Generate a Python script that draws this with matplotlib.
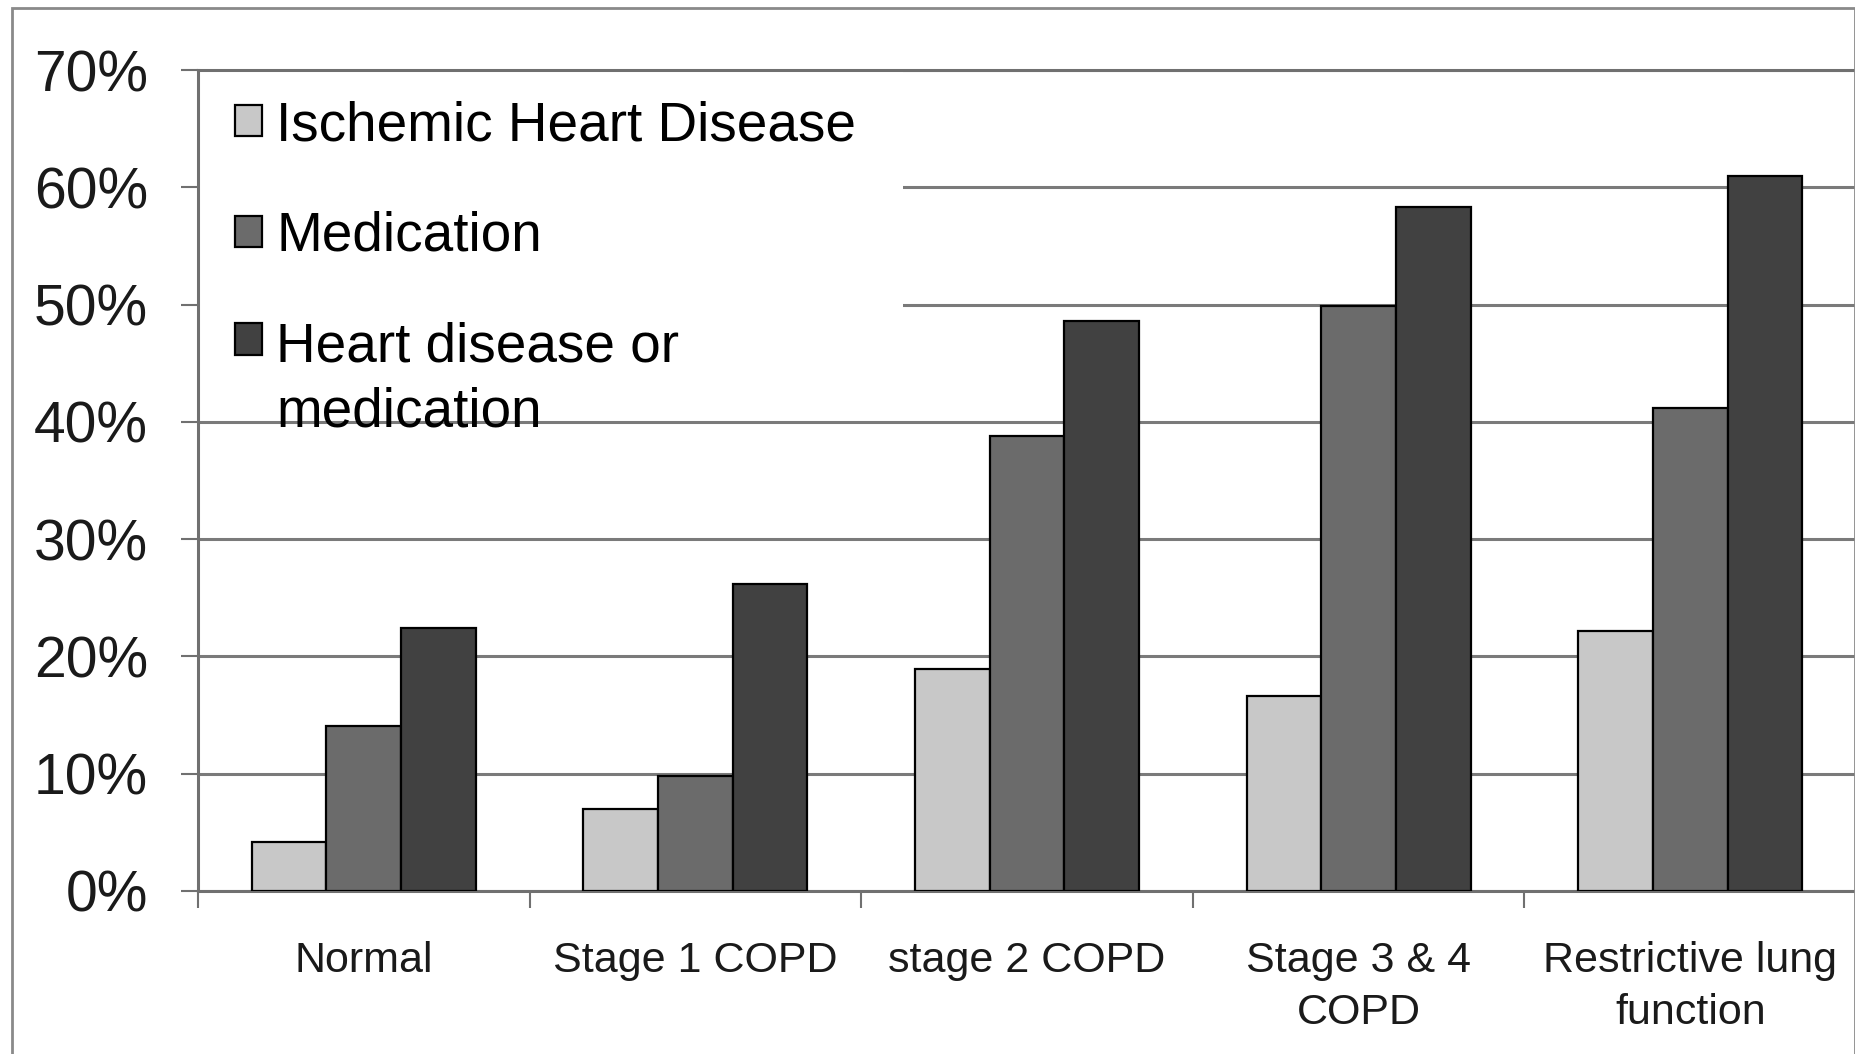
import numpy as np
import matplotlib.pyplot as plt
from matplotlib.patches import Rectangle
from matplotlib.ticker import PercentFormatter
from matplotlib.legend_handler import HandlerPatch

plt.rcParams['font.family'] = ['Liberation Sans', 'DejaVu Sans']

categories = ['Normal', 'Stage 1 COPD', 'stage 2 COPD', 'Stage 3 & 4\nCOPD',
              'Restrictive lung\nfunction']
series_names = ['Ischemic Heart Disease', 'Medication', 'Heart disease or\nmedication']
ihd = [4.2, 7.0, 18.9, 16.6, 22.2]
medication = [14.1, 9.8, 38.8, 49.9, 41.2]
either = [22.4, 26.2, 48.6, 58.3, 61.0]
colors = ['#c8c8c8', '#6b6b6b', '#414141']


class FirstLineHandler(HandlerPatch):
    # put the swatch next to the first line of a two-line label
    def create_artists(self, legend, orig_handle, xdescent, ydescent,
                       width, height, fontsize, trans):
        shift = 0.76 * fontsize
        p = Rectangle((-xdescent, -ydescent + shift), width, height)
        self.update_prop(p, orig_handle, legend)
        p.set_transform(trans)
        return [p]


fig = plt.figure(figsize=(18.56, 10.54), dpi=100)
ax = fig.add_axes([198 / 1856, 163 / 1054, 1658 / 1856, 821 / 1054])

index = np.arange(len(categories))
bar_width = 0.225
handles = []
for k, (vals, c, name) in enumerate(zip([ihd, medication, either], colors, series_names)):
    b = ax.bar(index + (k - 1) * bar_width, vals, bar_width, color=c,
               edgecolor='black', linewidth=1.6, label=name, zorder=3)
    handles.append(b)

ax.set_xlim(-0.5, len(categories) - 0.5)
ax.set_ylim(0, 70)
ax.set_yticks(np.arange(0, 71, 10))
ax.yaxis.set_major_formatter(PercentFormatter(xmax=100, decimals=0))
ax.set_axisbelow(True)
ax.yaxis.grid(True, color='#7a7a7a', linewidth=2.2)

ax.set_xticks(np.arange(len(categories) + 1) - 0.5)
ax.set_xticklabels([])
ax.set_xticks(index, minor=True)
ax.set_xticklabels(categories, minor=True, fontsize=31, color='#1a1a1a')
for t in ax.get_xticklabels(minor=True):
    t.set_linespacing(1.38)
ax.tick_params(axis='x', which='major', length=12, width=1.5, color='#707070')
ax.tick_params(axis='x', which='minor', length=0, pad=36)
ax.tick_params(axis='y', length=12, width=1.5, color='#707070', pad=24,
               labelsize=41, labelcolor='#1a1a1a')

for side in ['left', 'bottom', 'top']:
    ax.spines[side].set_color('#707070')
    ax.spines[side].set_linewidth(2.2)
ax.spines['right'].set_visible(False)

# white box behind the legend hides the upper gridlines there
ax.add_patch(Rectangle((0, 0.577), 0.425, 0.42, transform=ax.transAxes,
                       facecolor='white', edgecolor='none', zorder=1.5))

leg = ax.legend(handles=[h.patches[0] for h in handles], labels=series_names,
                loc='upper left', bbox_to_anchor=(0.009, 0.99), frameon=False,
                fontsize=39.5, handlelength=0.5, handleheight=0.5,
                handletextpad=0.25, labelspacing=1.07, borderaxespad=0,
                handler_map={handles[2].patches[0]: FirstLineHandler()})
leg.get_texts()[2].set_linespacing(1.33)
leg.set_zorder(4)

# outer chart frame
fig.patches.append(Rectangle((12 / 1856, -0.02), 1 - 13 / 1856, 1.02 - 8 / 1054,
                             transform=fig.transFigure, fill=False,
                             edgecolor='#8a8a8a', linewidth=2))

plt.savefig('out.png', dpi=100)
